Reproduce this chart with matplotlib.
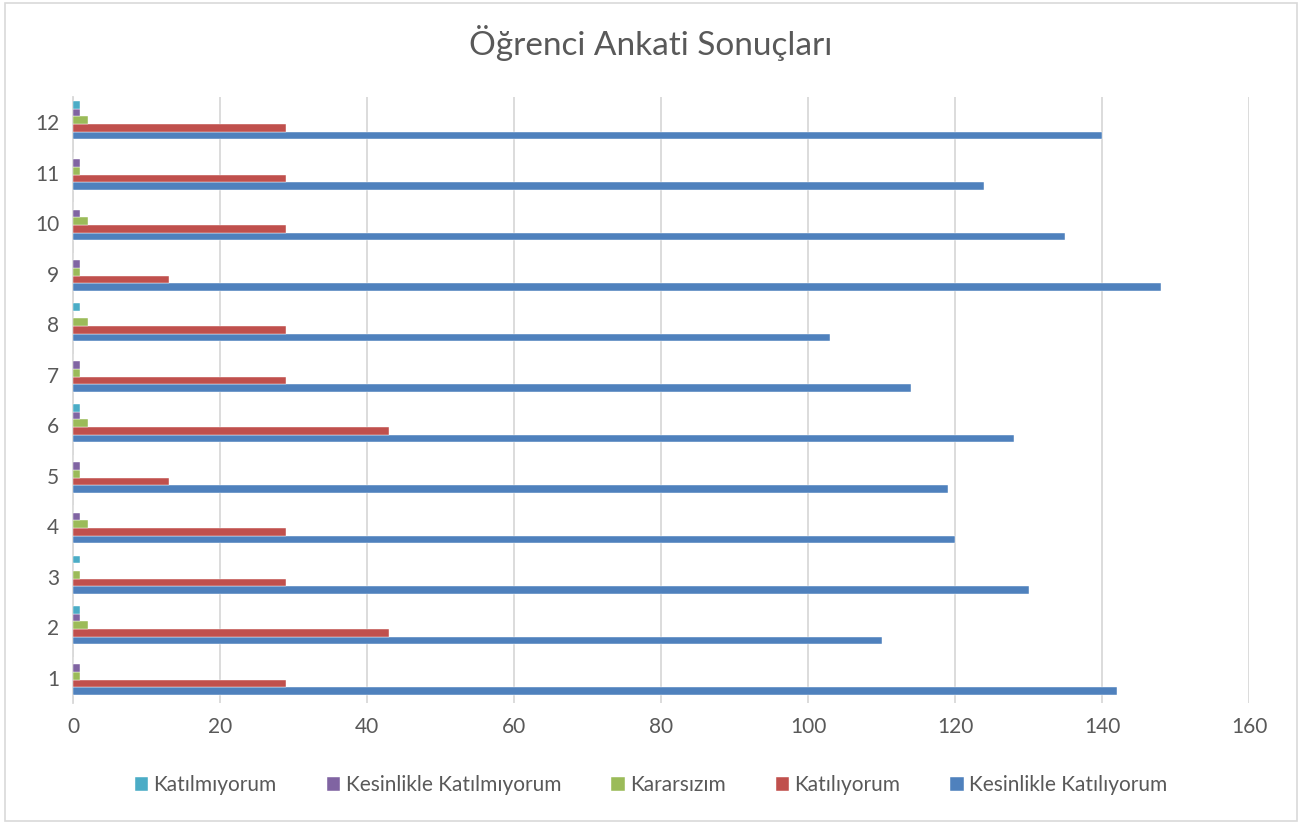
import matplotlib
matplotlib.use("Agg")
import matplotlib.pyplot as plt
import numpy as np
from matplotlib.patches import Rectangle

categories = ["1", "2", "3", "4", "5", "6", "7", "8", "9", "10", "11", "12"]
kesinlikle_katiliyorum = [142, 110, 130, 120, 119, 128, 114, 103, 148, 135, 124, 140]
katiliyorum = [29, 43, 29, 29, 13, 43, 29, 29, 13, 29, 29, 29]
kararsizim = [1, 2, 1, 2, 1, 2, 1, 2, 1, 2, 1, 2]
kesinlikle_katilmiyorum = [1, 1, 0, 1, 1, 1, 1, 0, 1, 1, 1, 1]
katilmiyorum = [0, 1, 1, 0, 0, 1, 0, 1, 0, 0, 0, 1]
x_ticks = [0, 20, 40, 60, 80, 100, 120, 140, 160]

series = [
    ("Kesinlikle Katılıyorum", kesinlikle_katiliyorum, "#4F81BD"),
    ("Katılıyorum", katiliyorum, "#C0504D"),
    ("Kararsızım", kararsizim, "#9BBB59"),
    ("Kesinlikle Katılmıyorum", kesinlikle_katilmiyorum, "#8064A2"),
    ("Katılmıyorum", katilmiyorum, "#4BACC6"),
]

plt.rcParams['font.family'] = ['Lato', 'DejaVu Sans']

fig = plt.figure(figsize=(13.02, 8.24), dpi=100)
ax = fig.add_axes([0.0561, 0.1468, 0.9032, 0.7355])

y = np.arange(len(categories))
h = 0.15
n = len(series)
handles = []
for i, (name, vals, col) in enumerate(series):
    off = (i - (n - 1) / 2) * h + 0.04
    b = ax.barh(y + off, vals, height=h, color=col, label=name, zorder=3,
                edgecolor="white", linewidth=0.3)
    handles.append(b)

ax.set_ylim(-0.5, len(categories) - 0.5)
ax.set_xlim(0, 160)
ax.set_xticks(x_ticks)
ax.set_xticklabels([str(t) for t in x_ticks])
ax.set_yticks(y)
ax.set_yticklabels(categories)
ax.grid(axis="x", color="#D9D9D9", linewidth=1.3, zorder=0)
for s in ["top", "right", "bottom"]:
    ax.spines[s].set_visible(False)
ax.spines["left"].set_color("#D9D9D9")
ax.spines["left"].set_linewidth(1.3)
ax.tick_params(axis="both", length=0, labelsize=15, colors="#595959", pad=10)
ax.tick_params(axis="x", pad=10)

fig.suptitle("Öğrenci Ankati Sonuçları", y=0.97, fontsize=24, color="#595959")

leg = fig.legend(handles[::-1], [s[0] for s in series][::-1], loc="center",
                 bbox_to_anchor=(0.5, 0.047), ncol=5, frameon=False,
                 fontsize=15, handlelength=0.65, handleheight=0.65,
                 handletextpad=0.25, columnspacing=2.4)
for t in leg.get_texts():
    t.set_color("#595959")

fig.patches.append(Rectangle((0.004, 0.004), 0.992, 0.992, transform=fig.transFigure,
                             fill=False, edgecolor="#D9D9D9", linewidth=1.2))

fig.savefig("out.png", dpi=100)
